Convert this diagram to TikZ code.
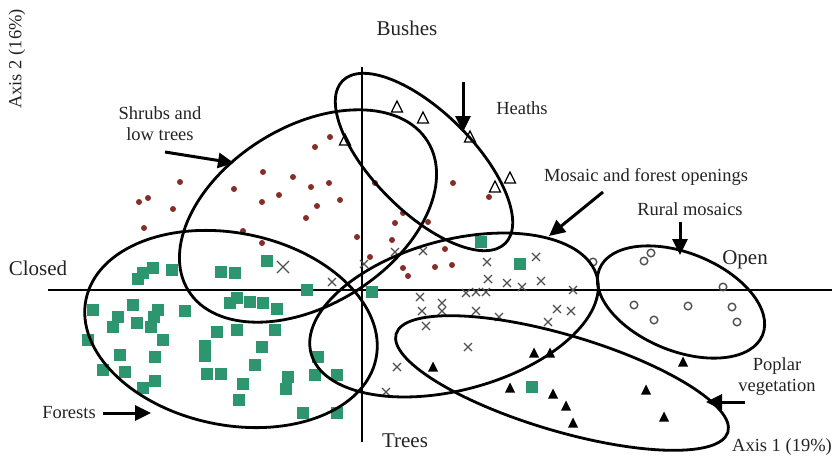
\documentclass[tikz,border=0pt]{standalone}
\usepackage{fontspec}
\setmainfont{Liberation Serif}
\usetikzlibrary{arrows.meta}
\definecolor{dotc}{RGB}{135,45,40}
\definecolor{sqc}{RGB}{45,150,110}
\definecolor{crc}{RGB}{80,80,80}
\definecolor{txt}{RGB}{35,35,35}
\begin{document}
\begin{tikzpicture}[x=1pt,y=-1pt,
 ell/.style={line width=2.8pt, black},
 axisline/.style={line width=2.8pt, black},
 lab/.style={text=txt, font=\fontsize{18.5}{21}\selectfont, inner sep=0pt, align=center},
 pole/.style={text=txt, font=\fontsize{21}{24}\selectfont, inner sep=0pt},
 pointer/.style={line width=3pt, -{Triangle[length=16pt,width=15pt]}},
 crossm/.style={draw=crc, line width=1.3pt},
 circm/.style={draw=crc, line width=1.4pt},
]
\useasboundingbox (0,0) rectangle (832,456);

% axes
\coordinate (hl) at (48,290);
\coordinate (hr) at (832,290);
\coordinate (vt) at (362,67);
\coordinate (vb) at (362,442);
\draw[axisline] (hl) -- (hr);
\draw[axisline] (vt) -- (vb);

% green squares (forests)
\foreach \p in {(153,268),(143,273),(138,279),(172,270),(221,272),(235,273),(267,261),(307,290),(372,292),
 (93,310),(133,305),(158,310),(154,317),(118,317),(113,327),(137,323),(151,327),(185,311),
 (230,303),(237,298),(250,302),(263,303),(277,309),
 (217,332),(237,330),(275,330),(163,340),(88,340),(205,346),(205,356),(262,347),(120,355),(155,357),
 (255,365),(103,370),(125,372),(207,374),(221,374),(288,377),(286,389),(243,384),(318,357),(315,375),
 (337,375),(143,388),(155,381),(239,400),(303,413),(337,413),(481,242),(520,264),(532,387)}
 \fill[sqc] \p ++(-6,-6) rectangle ++(12,12);

% red dots (shrubs)
\foreach \p in {(315,147),(330,137),(263,172),(293,177),(329,183),(180,182),(234,189),(311,187),(148,198),
 (139,202),(279,195),(262,202),(340,200),(317,206),(173,209),(306,218),(144,228),(243,231),(262,243),
 (357,237),(375,183),(403,213),(395,223),(428,222),(392,240),(370,257),(403,268),(408,276),(445,249),
 (435,267),(452,265),(453,183),(489,197)}
 \fill[dotc] \p circle (3pt);

% crosses (mosaic)
\draw[crossm] (283,267) ++(-6,-6) -- ++(12,12) ++(-12,0) -- ++(12,-12);
\foreach \p in {(332,282),(364,264),(395,252),(423,251),(487,262),(536,257),(488,279),(507,283),(522,287),
 (541,281),(466,293),(476,292),(486,292),(573,290),(420,297),(442,303),(442,311),(422,311),(476,311),
 (499,317),(426,326),(557,309),(571,311),(548,322),(468,347),(397,367),(386,392)}
 \draw[crossm] \p ++(-4,-4) -- ++(8,8) ++(-8,0) -- ++(8,-8);

% circles (rural mosaics)
\foreach \p in {(651,253),(644,261),(723,287),(634,305),(688,306),(732,307),(654,320),(737,322),(593,262)}
 \draw[circm] \p circle (3.8pt);

% filled triangles (poplar)
\foreach \p in {(534,353),(550,353),(433,367),(683,362),(510,388),(553,394),(566,406),(573,423),(646,390),(664,417)}
 \fill[black] \p ++(0,-5.5) -- ++(5,10) -- ++(-10,0) -- cycle;

% open triangles (heaths)
\foreach \p in {(345,140),(397,107),(423,118),(470,137),(510,178),(495,187)}
 \draw[black, line width=1.3pt, line join=miter] \p ++(0,-6) -- ++(5.5,11) -- ++(-11,0) -- cycle;

% ellipses
\draw[ell, rotate around={-11.5:(231,329)}] (231,329) ellipse [x radius=148pt, y radius=96pt];
\draw[ell, rotate around={32:(308,216)}] (308,216) ellipse [x radius=141pt, y radius=89pt];
\draw[ell, rotate around={-45:(424,162)}] (424,162) ellipse [x radius=115pt, y radius=50pt];
\draw[ell, rotate around={15:(454,315)}] (454,315) ellipse [x radius=148pt, y radius=75pt];
\draw[ell, rotate around={-22:(681,302)}] (681,302) ellipse [x radius=88pt, y radius=49pt];
\draw[ell, rotate around={-16.5:(562,383)}] (562,383) ellipse [x radius=173pt, y radius=48pt];

% labels
\node[lab, rotate=90] (ax2) at (17,59) {Axis 2 (16\%)};
\node[pole] (bushes) at (407,28) {Bushes};
\node[lab] (shrubs) at (160,124) {Shrubs and\\low trees};
\node[lab] (heaths) at (522,108) {Heaths};
\node[lab] (mosaic) at (646,177) {Mosaic and forest openings};
\node[lab] (rural) at (690,209) {Rural mosaics};
\node[pole] (closed) at (38,268) {Closed};
\node[pole] (open) at (745,260) {Open};
\node[lab] (poplar) at (777,377) {Poplar\\vegetation};
\node[lab] (forests) at (69,413) {Forests};
\node[pole] (trees) at (405,441) {Trees};
\node[lab] (ax1) at (782,447) {Axis 1 (19\%)};

% pointer arrows
\coordinate (shA) at (165,152); \coordinate (shB) at (234,163);
\coordinate (heA) at (463,82);  \coordinate (heB) at (463,132);
\coordinate (moA) at (603,192); \coordinate (moB) at (549,236);
\coordinate (ruA) at (680,222); \coordinate (ruB) at (680,255);
\coordinate (poA) at (745,402); \coordinate (poB) at (706,402);
\coordinate (foA) at (103,413); \coordinate (foB) at (151,413);
\draw[pointer] (shA) -- (shB);
\draw[pointer] (heA) -- (heB);
\draw[pointer] (moA) -- (moB);
\draw[pointer] (ruA) -- (ruB);
\draw[pointer] (poA) -- (poB);
\draw[pointer] (foA) -- (foB);
\end{tikzpicture}
\end{document}
